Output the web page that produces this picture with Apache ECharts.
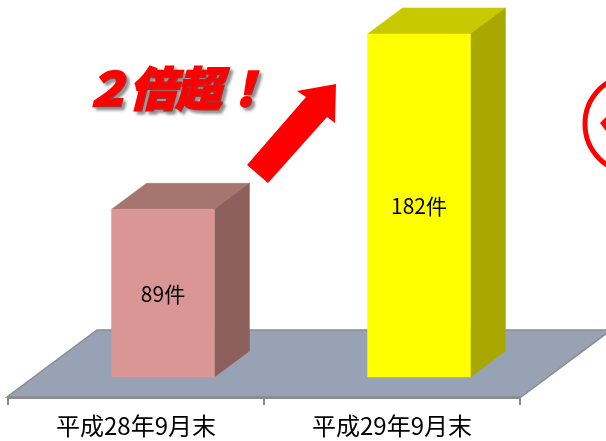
<!DOCTYPE html>
<html>
<head>
<meta charset="utf-8">
<script src="https://cdn.jsdelivr.net/npm/echarts@6/dist/echarts.min.js"></script>
<style>html,body{margin:0;padding:0;background:#fff}#c{width:606px;height:441px}</style>
</head>
<body>
<div id="c"></div>
<script>
const categories = ['平成28年9月末', '平成29年9月末'];
const counts = [89, 182];
const valueLabels = ['89件', '182件'];
const frontColors = ['#D99694', '#FFFF00'];
const topColors = ['#A6756F', '#C9C900'];
const sideColors = ['#8C5F5D', '#A8A800'];
const headline = '２倍超！';

const chart = echarts.init(document.getElementById('c'));
const FONT = '"Noto Sans CJK JP", "Noto Sans", sans-serif';

// depth offsets (pixels) for the pseudo-3D look
const BAR_SHIFT = [27, -20];
const BAR_DEPTH = [35, -26];
const FLOOR_DEPTH = [90, -67];
const FLOOR_FRONT = 20;

function floorItem(params, api) {
  const cs = params.coordSys;
  const x0 = cs.x - 1, x1 = cs.x + cs.width + 1;
  const yF = cs.y + cs.height + FLOOR_FRONT;
  const pts = [[x0, yF], [x1, yF], [x1 + FLOOR_DEPTH[0], yF + FLOOR_DEPTH[1]], [x0 + FLOOR_DEPTH[0], yF + FLOOR_DEPTH[1]]];
  return {
    type: 'polygon',
    shape: { points: pts },
    style: { fill: '#97A3B4', stroke: '#8C8C8C', lineWidth: 1.5 }
  };
}

function barItem(params, api) {
  const i = api.value(0);
  const v = api.value(1);
  const top = api.coord([i, v]);
  const base = api.coord([i, 0]);
  const bw = api.size([1, 0])[0] * 0.402;
  const xl = top[0] - bw / 2 + BAR_SHIFT[0];
  const xr = top[0] + bw / 2 + BAR_SHIFT[0];
  const yt = top[1];
  const yb = base[1];
  const dx = BAR_DEPTH[0], dy = BAR_DEPTH[1];
  const idx = params.dataIndex;
  return {
    type: 'group',
    children: [
      { type: 'polygon', shape: { points: [[xl, yt], [xr, yt], [xr + dx, yt + dy], [xl + dx, yt + dy]] },
        style: { fill: topColors[idx], stroke: topColors[idx], lineWidth: 0.5 } },
      { type: 'polygon', shape: { points: [[xr, yt], [xr + dx, yt + dy], [xr + dx, yb + dy], [xr, yb]] },
        style: { fill: sideColors[idx], stroke: sideColors[idx], lineWidth: 0.5 } },
      { type: 'rect', shape: { x: xl, y: yt, width: xr - xl, height: yb - yt },
        style: { fill: frontColors[idx], stroke: frontColors[idx], lineWidth: 0.5 } },
      { type: 'text', x: (xl + xr) / 2, y: (yt + yb) / 2 + 1,
        style: { text: valueLabels[idx], fill: '#000', font: '21px ' + FONT, align: 'center', verticalAlign: 'middle' } }
    ]
  };
}

chart.setOption({
  animation: false,
  grid: { left: 8, right: 86, top: 0, bottom: 64 },
  xAxis: {
    type: 'category',
    data: categories,
    offset: 21,
    axisLine: { onZero: false, lineStyle: { color: '#8C8C8C', width: 2 } },
    axisTick: { show: true, length: 7, lineStyle: { color: '#8C8C8C', width: 2 } },
    axisLabel: { margin: 16, fontSize: 24, color: '#000', fontFamily: FONT }
  },
  yAxis: { type: 'value', min: 0, max: 200, show: false, splitLine: { show: false } },
  series: [
    { type: 'custom', renderItem: floorItem, data: [[0, 0]], z: 1, silent: true },
    { type: 'custom', renderItem: barItem, data: counts.map((c, i) => [i, c]), z: 2 }
  ],
  graphic: [
    { type: 'polygon', z: 10,
      shape: { points: [[247, 165], [306, 97], [297, 91], [336, 84], [335, 123], [327, 117], [268, 183]] },
      style: { fill: '#FF0000' } },
    { type: 'text', z: 10, x: 176, y: 89,
      style: { text: headline, fill: '#FF0000', font: 'italic 900 46px ' + FONT, align: 'center', verticalAlign: 'middle',
        stroke: '#FF0000', lineWidth: 2.5,
        textShadowColor: 'rgba(90,90,90,0.6)', textShadowBlur: 3, textShadowOffsetX: 3, textShadowOffsetY: 3 } },
    { type: 'circle', z: 10, shape: { cx: 634, cy: 124, r: 49 },
      style: { fill: 'none', stroke: '#FF0000', lineWidth: 5 } },
    { type: 'polygon', z: 10, shape: { points: [[600, 123], [606, 117], [606, 131]] },
      style: { fill: '#FF0000' } }
  ]
});
</script>
</body>
</html>
